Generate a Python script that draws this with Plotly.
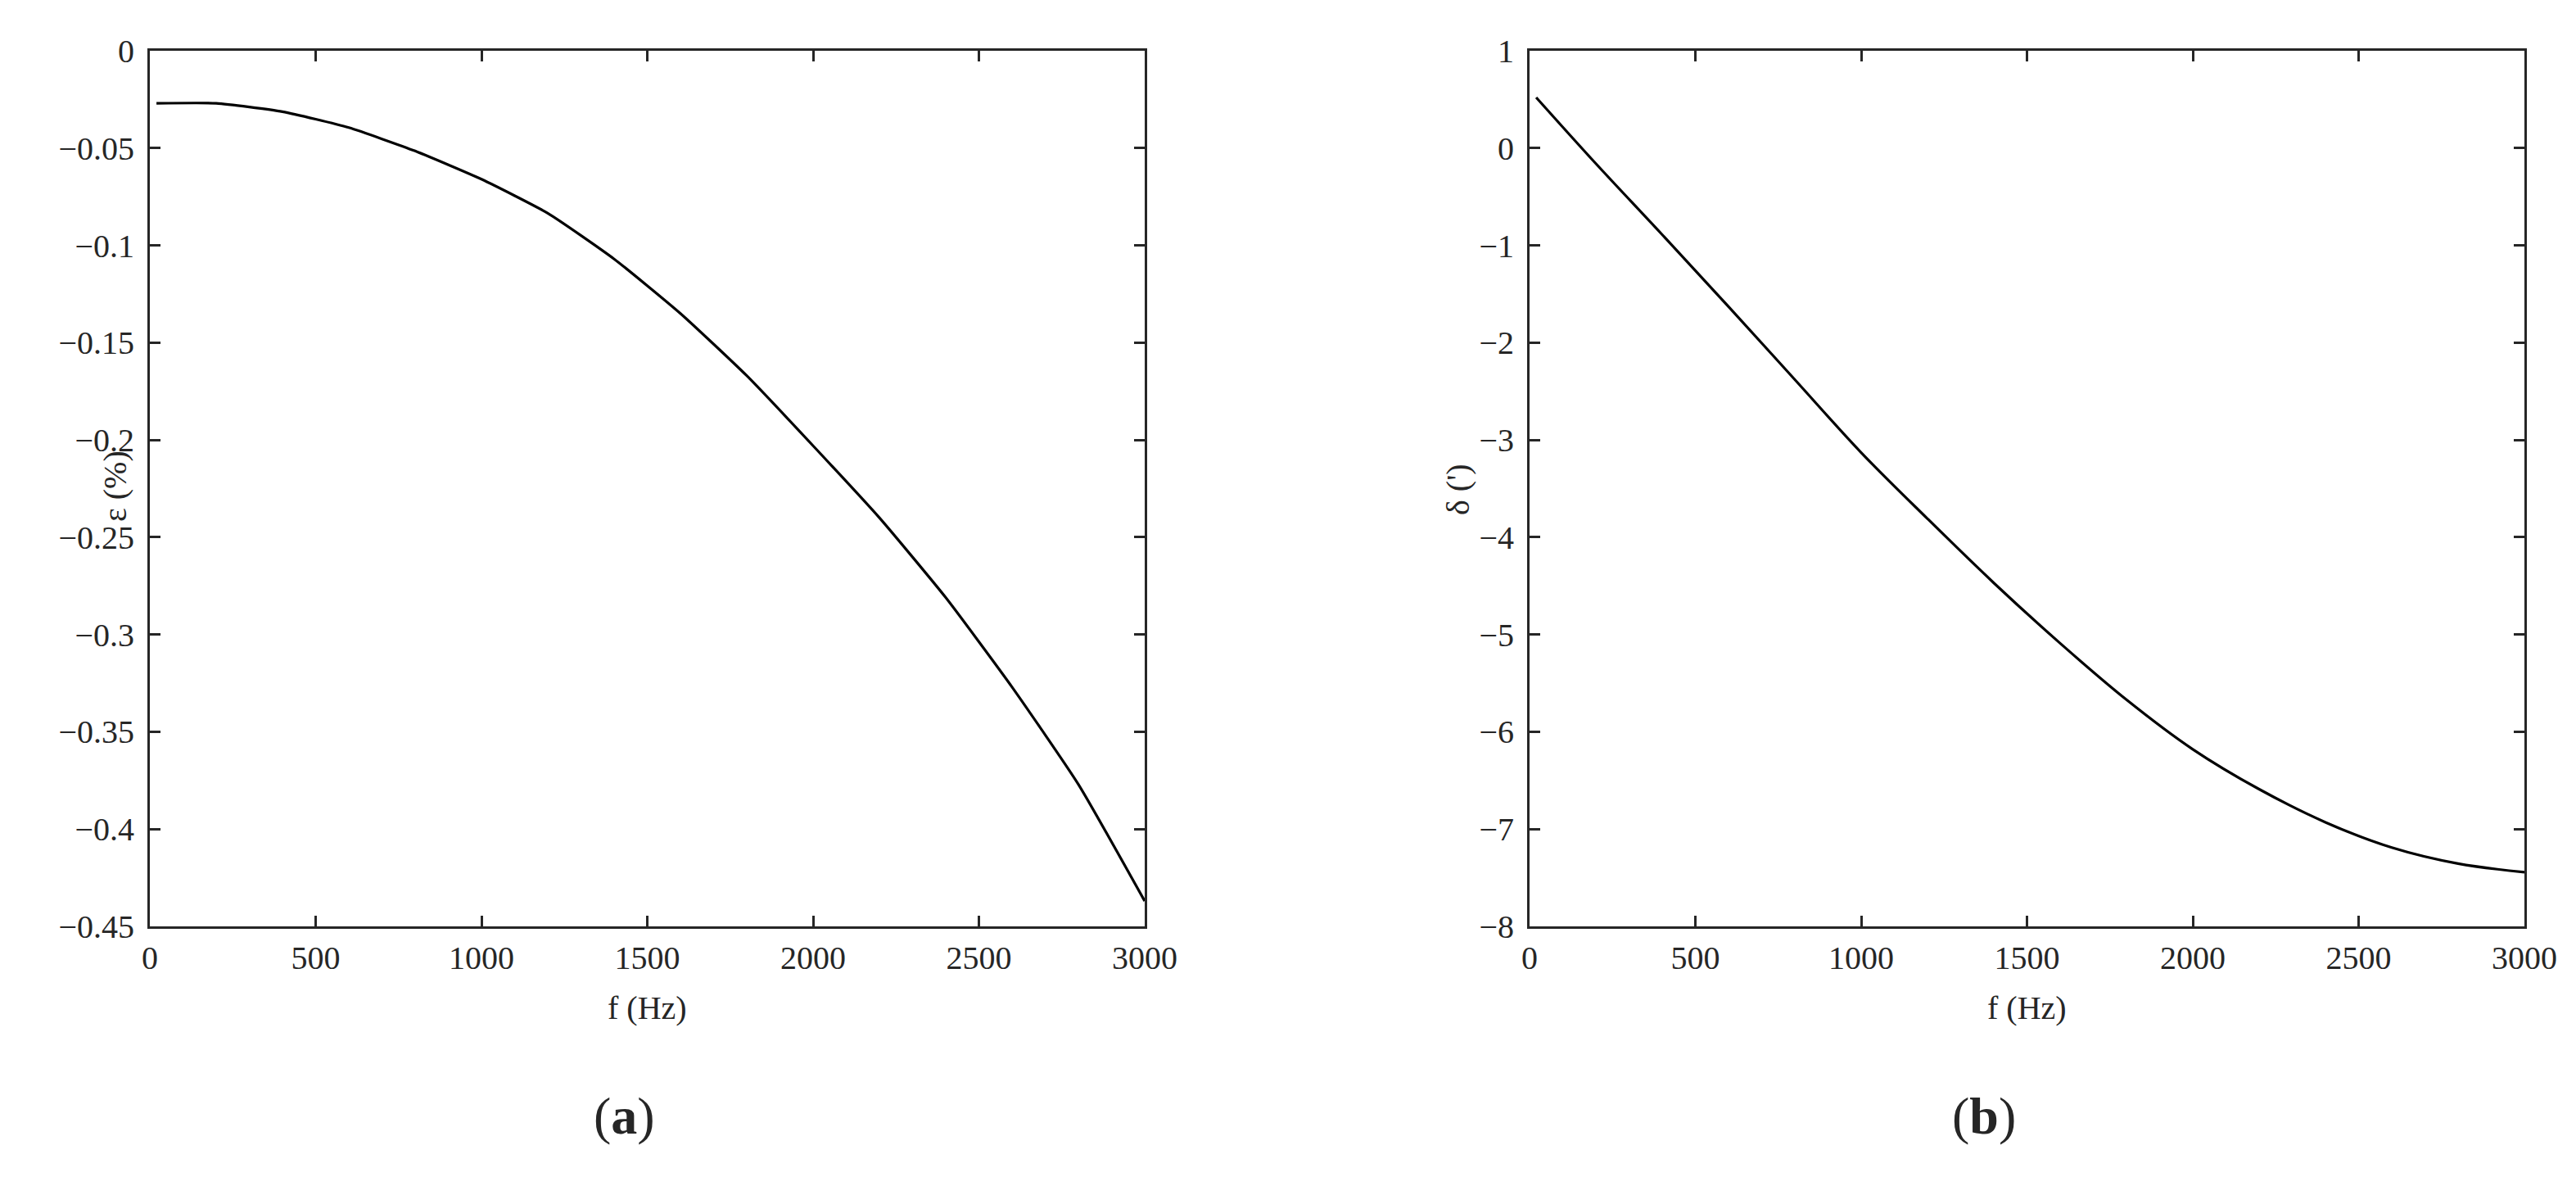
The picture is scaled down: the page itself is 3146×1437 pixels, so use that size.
import plotly.graph_objects as go

# Frequence (Hz)
f_hz = [20, 200, 400, 600, 800, 1000, 1200, 1400, 1600, 1800,
        2000, 2200, 2400, 2600, 2800, 3000]

# (a) erreur de rapport epsilon (%)
eps_pct = [-0.0270, -0.0270, -0.0313, -0.0395, -0.0515, -0.0660, -0.0835,
           -0.1070, -0.1350, -0.1670, -0.2030, -0.2400, -0.2810, -0.3270,
           -0.3770, -0.4370]

# (b) erreur de phase delta (')
delta_min = [0.52, -0.16, -0.89, -1.63, -2.38, -3.13, -3.81, -4.47, -5.09,
             -5.67, -6.18, -6.59, -6.93, -7.19, -7.355, -7.443]

x_ticks = [0, 500, 1000, 1500, 2000, 2500, 3000]
eps_ticks = [0, -0.05, -0.1, -0.15, -0.2, -0.25, -0.3, -0.35, -0.4, -0.45]
delta_ticks = [1, 0, -1, -2, -3, -4, -5, -6, -7, -8]

FONT = "Liberation Serif"
INK = "#262626"

# la page html ajoute 8 px de marge autour de la figure
PAD = 8
W, H = 3146 - 2 * PAD, 1437 - 2 * PAD


def px(x):
    return (x - PAD) / W


def py(y):
    return 1 - (y - PAD) / H


fig = go.Figure()
fig.add_trace(go.Scatter(x=f_hz, y=eps_pct, mode="lines",
                         line=dict(color="black", width=3.2, shape="spline", smoothing=0.5),
                         xaxis="x", yaxis="y", showlegend=False))
fig.add_trace(go.Scatter(x=f_hz, y=delta_min, mode="lines",
                         line=dict(color="black", width=3.2, shape="spline"),
                         xaxis="x2", yaxis="y2", showlegend=False))

axis_style = dict(
    showline=True, linecolor=INK, linewidth=3, mirror="ticks",
    ticks="inside", ticklen=13, tickwidth=3, tickcolor=INK,
    showgrid=False, zeroline=False, automargin=False,
    tickfont=dict(family=FONT, size=40, color=INK),
)


def minus(vals):
    return [f"{v:g}".replace("-", "\u2212") for v in vals]


fig.update_layout(
    width=W, height=H,
    margin=dict(l=0, r=0, t=0, b=0),
    paper_bgcolor="white", plot_bgcolor="white",
    font=dict(family=FONT, color=INK),
    xaxis=dict(domain=[px(183), px(1398)], range=[0, 3000],
               tickvals=x_ticks, ticklabelstandoff=1, anchor="y", **axis_style),
    yaxis=dict(domain=[py(1131), py(62)], range=[-0.45, 0],
               tickvals=eps_ticks, ticktext=minus(eps_ticks),
               ticklabelstandoff=8, anchor="x", **axis_style),
    xaxis2=dict(domain=[px(1868), px(3083)], range=[0, 3000],
                tickvals=x_ticks, ticklabelstandoff=1, anchor="y2", **axis_style),
    yaxis2=dict(domain=[py(1131), py(62)], range=[-8, 1],
                tickvals=delta_ticks, ticktext=minus(delta_ticks),
                ticklabelstandoff=8, anchor="x2", **axis_style),
)


def note(text, x, y, size, angle=0):
    fig.add_annotation(text=text, x=px(x), y=py(y), xref="paper", yref="paper",
                       showarrow=False, textangle=angle, xanchor="center", yanchor="middle",
                       font=dict(family=FONT, size=size, color=INK))


note("f (Hz)", 790, 1230, 40)
note("f (Hz)", 2475, 1230, 40)
note("\u03b5 (%)", 140, 594, 40, -90)
note("\u03b4 (')", 1780, 597, 40, -90)
note("(<b>a</b>)", 762, 1362, 64)
note("(<b>b</b>)", 2423, 1362, 64)

fig.write_html("out.html")
